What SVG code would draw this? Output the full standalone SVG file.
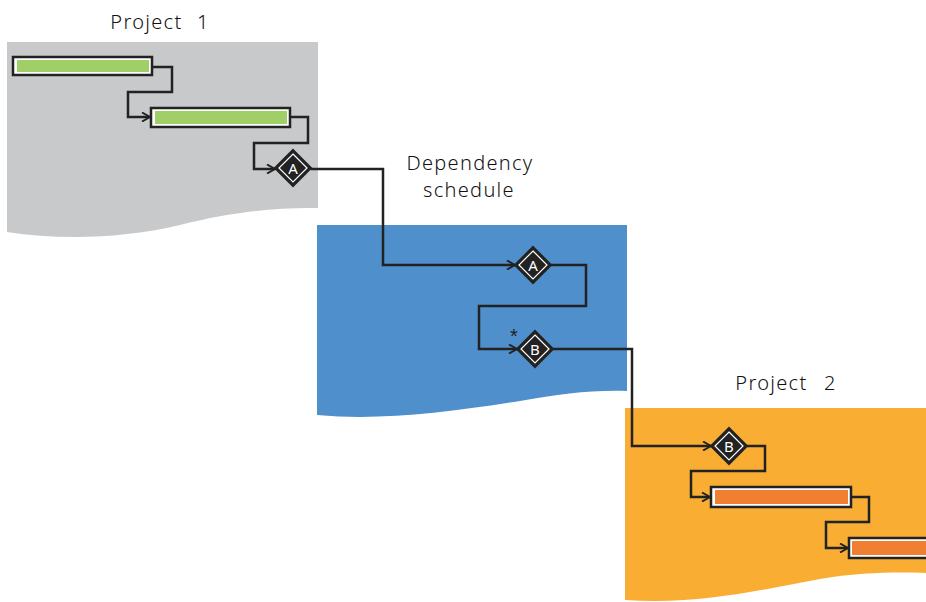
<svg xmlns="http://www.w3.org/2000/svg" width="926" height="602" viewBox="0 0 926 602">
<defs>
<style>
.lbl{font-family:"Noto Sans","Liberation Sans",sans-serif;font-weight:300;font-size:20px;fill:#111;text-anchor:middle;letter-spacing:1.3px}
.dtx{font-family:"Noto Sans","Liberation Sans",sans-serif;font-size:15px;fill:#fff;text-anchor:middle}
.con{fill:none;stroke:#222;stroke-width:2.5;stroke-linejoin:miter}
.bar{fill:#fff;stroke:#222;stroke-width:2.5}
.dia{fill:#222;stroke:#222;stroke-width:2}
.dia2{fill:none;stroke:#fff;stroke-width:1.2}
</style>
<marker id="arr" viewBox="0 0 10 10" refX="9" refY="5" markerWidth="10" markerHeight="10" markerUnits="userSpaceOnUse" orient="auto">
<path d="M1,0.5 L9,5 L1,9.5" fill="none" stroke="#222" stroke-width="2"/>
</marker>
</defs>
<rect width="926" height="602" fill="#fff"/>

<g id="project1">
<path d="M7,42 L318,42 L318,208 C280,207 230,212 180,225 C120,239 60,240 7,232 Z" fill="#c8c9cb"/>
<text class="lbl" x="160" y="29" word-spacing="8">Project 1</text>
</g>
<g id="dependency">
<path d="M317,225 L627,225 L627,391 C590,390 560,394 520,401 C450,412 380,421 317,415 Z" fill="#4f8fcb"/>
<text class="lbl" x="470" y="170">Dependency</text>
<text class="lbl" x="469" y="197">schedule</text>
</g>
<g id="project2">
<path d="M625,408 L926,408 L926,573 C900,572 860,572 820,579 C760,590 700,605 625,600 Z" fill="#f9ae33"/>
<text class="lbl" x="786" y="390" word-spacing="10">Project 2</text>
</g>

<g id="connectors">
<path class="con" d="M152,67 H172 V92 H128 V117 H150" marker-end="url(#arr)"/>
<path class="con" d="M290,117 H308 V143 H254 V169 H275" marker-end="url(#arr)"/>
<path class="con" d="M311,169 H383 V265 H515" marker-end="url(#arr)"/>
<path class="con" d="M551,265 H586 V306 H479 V349 H517" marker-end="url(#arr)"/>
<path class="con" d="M553,349 H632 V446 H711" marker-end="url(#arr)"/>
<path class="con" d="M747,446 H765 V471 H691 V497 H710" marker-end="url(#arr)"/>
<path class="con" d="M851,497 H869 V522 H826 V548 H848" marker-end="url(#arr)"/>
</g>

<g id="bar1">
<rect class="bar" x="13" y="57" width="139" height="18"/>
<rect x="17" y="60" width="132" height="12" fill="#a0ce67"/>
</g>
<g id="bar2">
<rect class="bar" x="151" y="108" width="139" height="19"/>
<rect x="155" y="111" width="132" height="13" fill="#a0ce67"/>
</g>
<g id="milestoneA1">
<path class="dia" d="M293,150 L311,168 L293,186 L275,168 Z"/>
<path class="dia2" d="M293,154 L307,168 L293,182 L279,168 Z"/>
<text class="dtx" x="293" y="174">A</text>
</g>
<g id="milestoneA2">
<path class="dia" d="M533,247 L551,265 L533,283 L515,265 Z"/>
<path class="dia2" d="M533,251 L547,265 L533,279 L519,265 Z"/>
<text class="dtx" x="533" y="271">A</text>
</g>
<g id="milestoneB1">
<text x="514" y="343" font-family="Liberation Sans,sans-serif" font-size="20" fill="#222" text-anchor="middle">*</text>
<path class="dia" d="M535,331 L553,349 L535,367 L517,349 Z"/>
<path class="dia2" d="M535,335 L549,349 L535,363 L521,349 Z"/>
<text class="dtx" x="535" y="355">B</text>
</g>
<g id="milestoneB2">
<path class="dia" d="M729,428 L747,446 L729,464 L711,446 Z"/>
<path class="dia2" d="M729,432 L743,446 L729,460 L715,446 Z"/>
<text class="dtx" x="729" y="452">B</text>
</g>
<g id="bar3">
<rect class="bar" x="711" y="487" width="140" height="20"/>
<rect x="715" y="490" width="133" height="14" fill="#f17f32"/>
</g>
<g id="bar4">
<rect class="bar" x="849" y="538" width="90" height="20"/>
<rect x="852" y="541" width="80" height="14" fill="#f17f32"/>
</g>
</svg>
